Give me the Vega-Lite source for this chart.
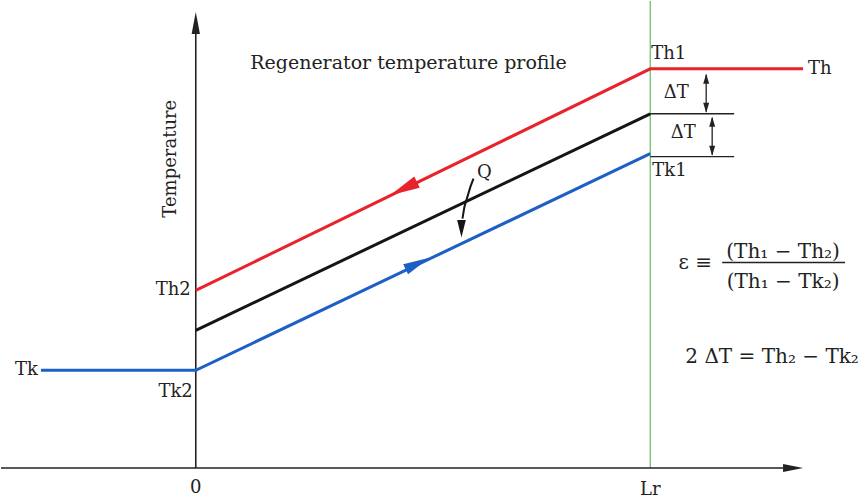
{
  "$schema": "https://vega.github.io/schema/vega-lite/v6.json",
  "width": 868,
  "height": 502,
  "autosize": {"type": "fit", "contains": "padding"},
  "padding": 0,
  "background": "white",
  "config": {"view": {"stroke": null}, "text": {"font": "DejaVu Serif", "color": "#222222", "fontSize": 18}},
  "datasets": {
    "rules": [
      {"kind": "lr", "x": 455, "T": 0, "x2": 455, "T2": 468},
      {"kind": "axis", "x": 0, "T": 0, "x2": 0, "T2": 450},
      {"kind": "axis", "x": -195, "T": 0, "x2": 598, "T2": 0},
      {"kind": "tick", "x": 455, "T": 355, "x2": 539, "T2": 355},
      {"kind": "tick", "x": 455, "T": 312, "x2": 539, "T2": 312},
      {"kind": "dbl", "x": 511, "T": 394, "x2": 511, "T2": 357},
      {"kind": "dbl", "x": 517, "T": 351, "x2": 517, "T2": 314},
      {"kind": "frac", "x": 527, "T": 206, "x2": 650, "T2": 206}
    ],
    "profiles": [
      {"series": "hot", "x": 0, "T": 178},
      {"series": "hot", "x": 455, "T": 400},
      {"series": "hot", "x": 608, "T": 400},
      {"series": "matrix", "x": 0, "T": 138},
      {"series": "matrix", "x": 455, "T": 355},
      {"series": "cold", "x": -155, "T": 98},
      {"series": "cold", "x": 0, "T": 98},
      {"series": "cold", "x": 455, "T": 315}
    ],
    "qpath": [
      {"step": 1, "x": 278, "T": 290},
      {"step": 2, "x": 275, "T": 282},
      {"step": 3, "x": 272, "T": 272},
      {"step": 4, "x": 269, "T": 262},
      {"step": 5, "x": 267, "T": 250}
    ],
    "heads": [
      {"head": "yaxis", "x": 0, "T": 446},
      {"head": "xaxis", "x": 598, "T": 0},
      {"head": "hot", "x": 208, "T": 280},
      {"head": "cold", "x": 222, "T": 205},
      {"head": "q", "x": 266, "T": 240},
      {"head": "dblup", "x": 511, "T": 390},
      {"head": "dbldown", "x": 511, "T": 361},
      {"head": "dblup", "x": 517, "T": 347},
      {"head": "dbldown", "x": 517, "T": 318}
    ],
    "labelsLeft": [
      {"text": "Th1", "x": 456, "T": 415},
      {"text": "Th", "x": 613, "T": 400},
      {"text": "Tk1", "x": 457, "T": 298},
      {"text": "Tk", "x": -181, "T": 98}
    ],
    "labelsRight": [
      {"text": "Th2", "x": -5, "T": 178},
      {"text": "Tk2", "x": -3, "T": 76}
    ],
    "labelsCenter": [
      {"text": "ΔT", "x": 481, "T": 376},
      {"text": "ΔT", "x": 488, "T": 336},
      {"text": "0", "x": 0, "T": -20},
      {"text": "Lr", "x": 455, "T": -22},
      {"text": "Q", "x": 289, "T": 296}
    ],
    "formula": [
      {"text": "ε ≡", "x": 500, "T": 205},
      {"text": "(Th₁ − Th₂)", "x": 588, "T": 217},
      {"text": "(Th₁ − Tk₂)", "x": 588, "T": 186},
      {"text": "2 ΔT = Th₂ − Tk₂", "x": 577, "T": 111}
    ],
    "titleText": [
      {"text": "Regenerator temperature profile", "x": 213, "T": 406}
    ],
    "yTitle": [
      {"text": "Temperature", "x": -25, "T": 310}
    ]
  },
  "encoding": {
    "x": {"field": "x", "type": "quantitative", "scale": {"domain": [-195, 673], "nice": false, "zero": false}, "axis": null},
    "y": {"field": "T", "type": "quantitative", "scale": {"domain": [-34, 468], "nice": false, "zero": false}, "axis": null}
  },
  "layer": [
    {
      "data": {"name": "rules"},
      "transform": [{"filter": "datum.kind == 'lr'"}],
      "mark": {"type": "rule", "color": "#5dbb63", "strokeWidth": 1.2},
      "encoding": {"x2": {"field": "x2"}, "y2": {"field": "T2"}}
    },
    {
      "data": {"name": "rules"},
      "transform": [{"filter": "datum.kind == 'axis'"}],
      "mark": {"type": "rule", "color": "#222222", "strokeWidth": 1.6},
      "encoding": {"x2": {"field": "x2"}, "y2": {"field": "T2"}}
    },
    {
      "data": {"name": "rules"},
      "transform": [{"filter": "datum.kind != 'lr' && datum.kind != 'axis'"}],
      "mark": {"type": "rule", "color": "#222222", "strokeWidth": 1.3},
      "encoding": {"x2": {"field": "x2"}, "y2": {"field": "T2"}}
    },
    {
      "data": {"name": "profiles"},
      "mark": {"type": "line", "strokeWidth": 3},
      "encoding": {
        "color": {"field": "series", "type": "nominal", "scale": {"domain": ["hot", "matrix", "cold"], "range": ["#e8232b", "#151515", "#1e5fc6"]}, "legend": null},
        "detail": {"field": "series"}
      }
    },
    {
      "data": {"name": "qpath"},
      "mark": {"type": "line", "color": "#151515", "strokeWidth": 2},
      "encoding": {"order": {"field": "step"}}
    },
    {
      "data": {"name": "heads"},
      "transform": [{"filter": "datum.head == 'yaxis'"}],
      "mark": {"type": "point", "filled": true, "color": "#222222", "opacity": 1, "shape": "M0,-1L0.38,1L-0.38,1Z", "size": 480}
    },
    {
      "data": {"name": "heads"},
      "transform": [{"filter": "datum.head == 'xaxis'"}],
      "mark": {"type": "point", "filled": true, "color": "#222222", "opacity": 1, "shape": "M1,0L-1,-0.4L-1,0.4Z", "size": 400}
    },
    {
      "data": {"name": "heads"},
      "transform": [{"filter": "datum.head == 'hot'"}],
      "mark": {"type": "point", "filled": true, "color": "#e8232b", "opacity": 1, "shape": "M-1,0L1,-0.42L1,0.42Z", "size": 900, "angle": -26}
    },
    {
      "data": {"name": "heads"},
      "transform": [{"filter": "datum.head == 'cold'"}],
      "mark": {"type": "point", "filled": true, "color": "#1e5fc6", "opacity": 1, "shape": "M1,0L-1,-0.42L-1,0.42Z", "size": 700, "angle": -26}
    },
    {
      "data": {"name": "heads"},
      "transform": [{"filter": "datum.head == 'q'"}],
      "mark": {"type": "point", "filled": true, "color": "#151515", "opacity": 1, "shape": "M0,1L-0.5,-1L0.5,-1Z", "size": 300}
    },
    {
      "data": {"name": "heads"},
      "transform": [{"filter": "datum.head == 'dblup'"}],
      "mark": {"type": "point", "filled": true, "color": "#222222", "opacity": 1, "shape": "M0,-1L0.6,1L-0.6,1Z", "size": 100}
    },
    {
      "data": {"name": "heads"},
      "transform": [{"filter": "datum.head == 'dbldown'"}],
      "mark": {"type": "point", "filled": true, "color": "#222222", "opacity": 1, "shape": "M0,1L0.6,-1L-0.6,-1Z", "size": 100}
    },
    {
      "data": {"name": "labelsLeft"},
      "mark": {"type": "text", "align": "left", "baseline": "middle"},
      "encoding": {"text": {"field": "text"}}
    },
    {
      "data": {"name": "labelsRight"},
      "mark": {"type": "text", "align": "right", "baseline": "middle"},
      "encoding": {"text": {"field": "text"}}
    },
    {
      "data": {"name": "labelsCenter"},
      "mark": {"type": "text", "align": "center", "baseline": "middle"},
      "encoding": {"text": {"field": "text"}}
    },
    {
      "data": {"name": "formula"},
      "mark": {"type": "text", "align": "center", "baseline": "middle", "fontSize": 20},
      "encoding": {"text": {"field": "text"}}
    },
    {
      "data": {"name": "titleText"},
      "mark": {"type": "text", "align": "center", "baseline": "middle", "fontSize": 19},
      "encoding": {"text": {"field": "text"}}
    },
    {
      "data": {"name": "yTitle"},
      "mark": {"type": "text", "align": "center", "baseline": "middle", "angle": 270, "fontSize": 18},
      "encoding": {"text": {"field": "text"}}
    }
  ]
}
